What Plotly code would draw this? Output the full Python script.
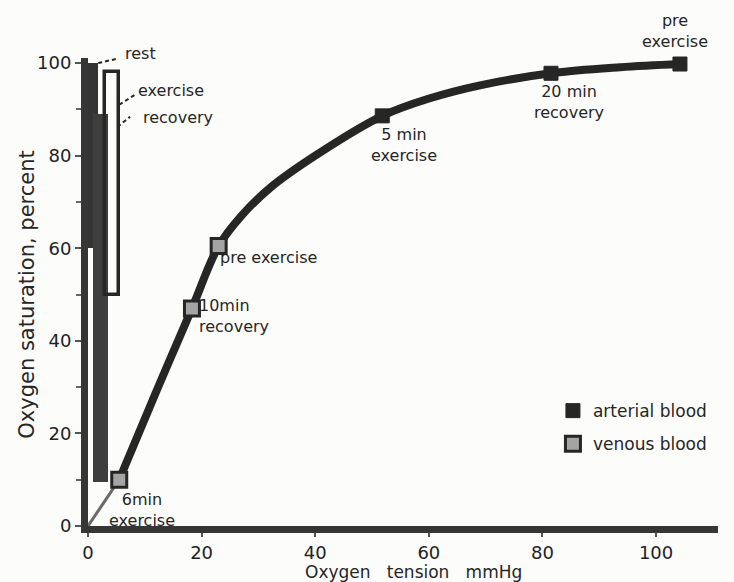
import plotly.graph_objects as go

# Oxygen dissociation data (oxygen tension in mmHg, saturation in percent)
arterial_tension = [51.8, 81.5, 104.2]
arterial_saturation = [88.6, 97.8, 99.8]
arterial_labels = ["5 min exercise", "20 min recovery", "pre exercise"]

venous_tension = [5.5, 18.3, 23.0]
venous_saturation = [10.0, 47.0, 60.5]
venous_labels = ["6min exercise", "10min recovery", "pre exercise"]

curve_tension = [5.5, 12.0, 18.3, 23.0, 27.0, 32.0, 40.0, 51.8, 60.2, 69.0, 81.5, 93.7, 104.2]
curve_saturation = [10.0, 29.0, 47.0, 60.5, 67.0, 73.0, 80.0, 88.6, 92.4, 95.2, 97.8, 99.1, 99.8]

origin_tension = [0.0, 5.5]
origin_saturation = [0.0, 10.0]

# Saturation ranges at very low tension: rest, exercise, recovery
range_names = ["rest", "exercise", "recovery"]
range_left = [0.0, 0.9, 3.0]
range_right = [1.7, 3.5, 5.5]
range_low = [60.0, 9.5, 50.0]
range_high = [100.0, 89.0, 98.0]

x_ticks = [0, 20, 40, 60, 80, 100]
y_ticks = [0, 20, 40, 60, 80, 100]
y_minor = [10, 30, 50, 70, 90]

INK = "#262626"
BG = "#fcfcfb"
NB = "\u00a0"

fig = go.Figure()

# range bars near the saturation axis
fill_colors = ["#343434", "#3e3e3e", "rgba(0,0,0,0)"]
line_widths = [0, 0, 3.5]
for i, name in enumerate(range_names):
    fig.add_trace(go.Bar(
        x=[(range_left[i] + range_right[i]) / 2],
        y=[range_high[i] - range_low[i]],
        base=[range_low[i]],
        width=[range_right[i] - range_left[i]],
        marker=dict(color=fill_colors[i], line=dict(color=INK, width=line_widths[i])),
        showlegend=False, hoverinfo="skip", name=name,
    ))

# faint lead-in from the origin
fig.add_trace(go.Scatter(
    x=origin_tension, y=origin_saturation, mode="lines",
    line=dict(color="#6a6a6a", width=3), showlegend=False, hoverinfo="skip",
))

# dissociation curve
fig.add_trace(go.Scatter(
    x=curve_tension, y=curve_saturation, mode="lines",
    line=dict(color=INK, width=8, shape="spline", smoothing=1.0),
    showlegend=False, hoverinfo="skip", cliponaxis=False,
))

fig.add_trace(go.Scatter(
    x=arterial_tension, y=arterial_saturation, mode="markers",
    marker=dict(symbol="square", size=14, color=INK, line=dict(color=INK, width=1)),
    name="arterial blood", legendgroup="a", text=arterial_labels, cliponaxis=False,
))
fig.add_trace(go.Scatter(
    x=venous_tension, y=venous_saturation, mode="markers",
    marker=dict(symbol="square", size=15, color="#a4a4a4", line=dict(color=INK, width=3)),
    name="venous blood", legendgroup="v", text=venous_labels, cliponaxis=False,
))

# dashed leaders from the range bars to their names
leaders = [
    (range_right[0] + 0.1, range_high[0], 5.3, 101.0),
    (range_right[2], 91.0, 8.3, 93.2),
    (range_right[2] - 0.3, 86.2, 7.4, 88.4),
]
for x0, y0, x1, y1 in leaders:
    fig.add_shape(type="line", xref="x", yref="y", x0=x0, y0=y0, x1=x1, y1=y1,
                  line=dict(color=INK, width=2, dash="4px,3px"))

# point labels: (text, x, y, xanchor, yshift in px)
labels = [
    ("rest", 6.1, 100.0, "left", 10),
    ("exercise", 8.4, 94.0, "left", 0),
    ("recovery", 9.3, 88.2, "left", 0),
    ("pre<br>exercise", 103.3, 99.8, "center", 33),
    ("20 min<br>recovery", 84.7, 91.6, "center", 0),
    ("5 min<br>exercise", 55.6, 82.3, "center", 0),
    ("pre exercise", 22.9, 58.1, "left", 0),
    ("10min<br>recovery", 19.2, 45.4, "left", 0),
    ("6min<br>exercise", 9.5, 3.5, "center", 0),
]
for text, x, y, anchor, dy in labels:
    fig.add_annotation(x=x, y=y, xref="x", yref="y", text=text, showarrow=False,
                       xanchor=anchor, yanchor="middle", yshift=dy, align=anchor,
                       font=dict(family="DejaVu Sans", size=16, color=INK))

# axis titles
fig.add_annotation(x=0.516, y=-0.0975, xref="paper", yref="paper",
                   text=f"Oxygen{NB * 3}tension{NB * 3}mmHg", showarrow=False,
                   xanchor="center", yanchor="middle",
                   font=dict(family="DejaVu Sans", size=17, color=INK))
fig.add_annotation(x=-0.097, y=0.494, xref="paper", yref="paper",
                   text="Oxygen saturation, percent", showarrow=False, textangle=-90,
                   xanchor="center", yanchor="middle",
                   font=dict(family="DejaVu Sans", size=21, color=INK))

fig.update_layout(
    width=734, height=582,
    margin=dict(l=88, r=16, t=58, b=56),
    paper_bgcolor=BG, plot_bgcolor=BG,
    font=dict(family="DejaVu Sans", size=17, color=INK),
    barmode="overlay", bargap=0,
    legend=dict(x=0.738, y=0.284, xanchor="left", yanchor="top",
                bgcolor="rgba(0,0,0,0)", tracegroupgap=8,
                font=dict(family="DejaVu Sans", size=17, color=INK)),
)
fig.update_xaxes(range=[0, 110.9], tickvals=x_ticks, showgrid=False, zeroline=False,
                 showline=True, linewidth=7, linecolor="#363636",
                 ticks="outside", ticklen=4, tickwidth=2, tickcolor="#555",
                 tickfont=dict(size=18, color="#222"))
fig.update_yaxes(range=[0, 101.1], tickvals=y_ticks, showgrid=False, zeroline=False,
                 showline=True, linewidth=7, linecolor="#363636",
                 ticks="outside", ticklen=6, tickwidth=2, tickcolor="#555",
                 minor=dict(tickvals=y_minor, ticks="outside", ticklen=5, tickwidth=2,
                            tickcolor="#666"),
                 tickfont=dict(size=18, color="#222"))

fig.write_html("out.html")
